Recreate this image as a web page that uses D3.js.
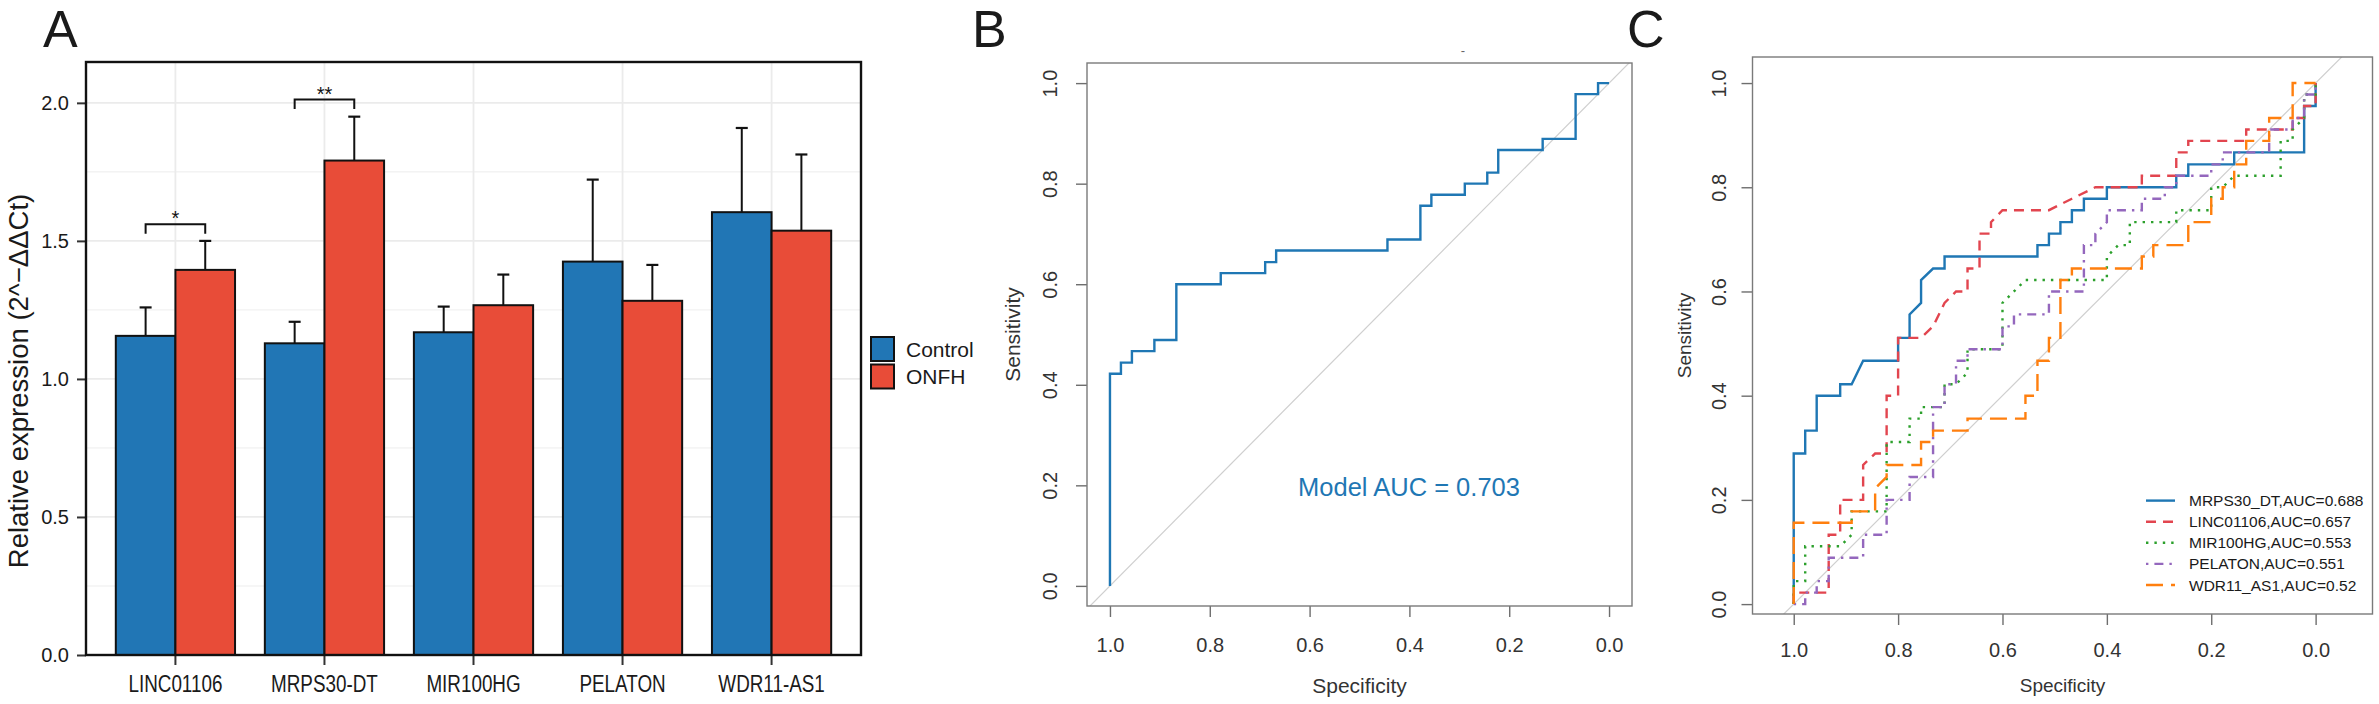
<!DOCTYPE html>
<html lang="en">
<head>
<meta charset="UTF-8">
<title>Relative expression and ROC curves</title>
<style>
  body { margin: 0; background: #fff; }
  svg { display: block; font-family: "Liberation Sans", Arial, Helvetica, sans-serif; }
</style>
</head>
<body>
<div id="chart"></div>
<script src="https://d3js.org/d3.v7.min.js"></script>
<script>
// ---------- panel A : relative expression (mean + upper error) ----------
const genes = ["LINC01106", "MRPS30-DT", "MIR100HG", "PELATON", "WDR11-AS1"];
const groups = ["Control", "ONFH"];
const controlMean = [1.156, 1.129, 1.169, 1.425, 1.604];
const controlUpper = [1.259, 1.207, 1.262, 1.722, 1.909];
const onfhMean = [1.395, 1.791, 1.267, 1.283, 1.537];
const onfhUpper = [1.500, 1.950, 1.378, 1.413, 1.813];
const yTicksA = [0, 0.5, 1, 1.5, 2];
const yMinorA = [0.25, 0.75, 1.25, 1.75];
const sigGenes = ["LINC01106", "MRPS30-DT"];
const sigLabels = ["*", "**"];
const sigHeights = [1.56, 2.012];

// ---------- panel B : combined model ROC ----------
const specB = [1, 1, 0.978, 0.978, 0.956, 0.956, 0.911, 0.911, 0.867, 0.867, 0.778, 0.778, 0.689, 0.689, 0.667, 0.667, 0.444, 0.444, 0.378, 0.378, 0.356, 0.356, 0.289, 0.289, 0.244, 0.244, 0.222, 0.222, 0.133, 0.133, 0.067, 0.067, 0.022, 0.022, 0];
const sensB = [0, 0.422, 0.422, 0.444, 0.444, 0.467, 0.467, 0.489, 0.489, 0.6, 0.6, 0.622, 0.622, 0.644, 0.644, 0.667, 0.667, 0.689, 0.689, 0.756, 0.756, 0.778, 0.778, 0.8, 0.8, 0.822, 0.822, 0.867, 0.867, 0.889, 0.889, 0.978, 0.978, 1, 1];
const aucLabelB = "Model AUC = 0.703";
const rocTicks = [0, 0.2, 0.4, 0.6, 0.8, 1];

// ---------- panel C : single gene ROC curves ----------
const specMRPS30 = [1, 1, 0.978, 0.978, 0.956, 0.956, 0.911, 0.911, 0.889, 0.867, 0.8, 0.8, 0.778, 0.778, 0.756, 0.756, 0.733, 0.711, 0.711, 0.533, 0.533, 0.511, 0.511, 0.489, 0.489, 0.467, 0.467, 0.444, 0.444, 0.4, 0.4, 0.267, 0.267, 0.244, 0.244, 0.156, 0.156, 0.022, 0.022, 0, 0];
const sensMRPS30 = [0, 0.289, 0.289, 0.333, 0.333, 0.4, 0.4, 0.422, 0.422, 0.467, 0.467, 0.511, 0.511, 0.556, 0.578, 0.622, 0.644, 0.644, 0.667, 0.667, 0.689, 0.689, 0.711, 0.711, 0.733, 0.733, 0.756, 0.756, 0.778, 0.778, 0.8, 0.8, 0.822, 0.822, 0.844, 0.844, 0.867, 0.867, 0.956, 0.956, 1];
const specLINC = [1, 1, 0.933, 0.933, 0.911, 0.911, 0.867, 0.867, 0.844, 0.822, 0.822, 0.8, 0.8, 0.756, 0.733, 0.711, 0.689, 0.667, 0.667, 0.644, 0.644, 0.622, 0.622, 0.6, 0.511, 0.467, 0.422, 0.333, 0.333, 0.267, 0.267, 0.244, 0.244, 0.133, 0.133, 0.044, 0.044, 0.022, 0.022, 0, 0];
const sensLINC = [0, 0.022, 0.022, 0.133, 0.133, 0.2, 0.2, 0.267, 0.289, 0.289, 0.4, 0.4, 0.511, 0.511, 0.533, 0.578, 0.6, 0.6, 0.644, 0.644, 0.711, 0.711, 0.733, 0.756, 0.756, 0.778, 0.8, 0.8, 0.822, 0.822, 0.867, 0.867, 0.889, 0.889, 0.911, 0.911, 0.933, 0.933, 0.956, 0.956, 1];
const specMIR = [1, 1, 0.978, 0.978, 0.911, 0.889, 0.889, 0.822, 0.822, 0.778, 0.778, 0.756, 0.756, 0.711, 0.711, 0.689, 0.667, 0.667, 0.6, 0.6, 0.578, 0.556, 0.4, 0.4, 0.378, 0.356, 0.356, 0.267, 0.267, 0.2, 0.2, 0.178, 0.156, 0.067, 0.067, 0.044, 0.044, 0.022, 0.022, 0, 0];
const sensMIR = [0, 0.044, 0.044, 0.111, 0.111, 0.133, 0.178, 0.178, 0.311, 0.311, 0.356, 0.356, 0.378, 0.378, 0.422, 0.422, 0.444, 0.489, 0.489, 0.578, 0.6, 0.622, 0.622, 0.667, 0.689, 0.689, 0.733, 0.733, 0.756, 0.756, 0.8, 0.8, 0.822, 0.822, 0.889, 0.889, 0.911, 0.933, 0.978, 0.978, 1];
const specPEL = [1, 0.978, 0.978, 0.956, 0.956, 0.933, 0.933, 0.867, 0.867, 0.822, 0.822, 0.778, 0.778, 0.733, 0.733, 0.711, 0.711, 0.689, 0.689, 0.667, 0.667, 0.6, 0.6, 0.578, 0.578, 0.511, 0.511, 0.444, 0.444, 0.422, 0.422, 0.4, 0.4, 0.333, 0.333, 0.289, 0.289, 0.267, 0.267, 0.2, 0.2, 0.178, 0.178, 0.089, 0.089, 0.044, 0.044, 0.022, 0.022, 0, 0];
const sensPEL = [0, 0, 0.022, 0.022, 0.044, 0.044, 0.089, 0.089, 0.133, 0.133, 0.2, 0.2, 0.244, 0.244, 0.378, 0.378, 0.422, 0.422, 0.467, 0.467, 0.489, 0.489, 0.533, 0.533, 0.556, 0.556, 0.6, 0.6, 0.689, 0.689, 0.711, 0.733, 0.756, 0.756, 0.778, 0.778, 0.8, 0.8, 0.822, 0.822, 0.844, 0.844, 0.867, 0.867, 0.911, 0.911, 0.933, 0.933, 0.978, 0.978, 1];
const specWDR = [1, 1, 0.889, 0.889, 0.844, 0.844, 0.822, 0.822, 0.756, 0.756, 0.733, 0.733, 0.667, 0.667, 0.556, 0.556, 0.533, 0.533, 0.511, 0.511, 0.489, 0.489, 0.467, 0.467, 0.333, 0.333, 0.311, 0.311, 0.244, 0.244, 0.2, 0.2, 0.178, 0.178, 0.156, 0.156, 0.133, 0.133, 0.089, 0.089, 0.044, 0.044, 0];
const sensWDR = [0, 0.156, 0.156, 0.178, 0.178, 0.222, 0.244, 0.267, 0.267, 0.311, 0.311, 0.333, 0.333, 0.356, 0.356, 0.4, 0.4, 0.467, 0.467, 0.511, 0.511, 0.622, 0.622, 0.644, 0.644, 0.667, 0.667, 0.689, 0.689, 0.733, 0.733, 0.778, 0.778, 0.8, 0.8, 0.844, 0.844, 0.889, 0.889, 0.933, 0.933, 1, 1];
const rocLabelsC = ["MRPS30_DT,AUC=0.688", "LINC01106,AUC=0.657", "MIR100HG,AUC=0.553", "PELATON,AUC=0.551", "WDR11_AS1,AUC=0.52"];

const W = 2379, H = 704;
const font = "'Liberation Sans', Arial, Helvetica, sans-serif";

const svg = d3.select("#chart").append("svg")
  .attr("width", W)
  .attr("height", H);
svg.append("rect").attr("width", W).attr("height", H).attr("fill", "#fff");

// panel letters
[["A", 43], ["B", 972], ["C", 1627]].forEach(([t, x]) => {
  svg.append("text").attr("x", x).attr("y", 47)
    .attr("font-size", 52).attr("fill", "#1a1a1a").text(t);
});

// =============================== A ===============================
const aBox = { left: 86, right: 861, top: 62, bottom: 655 };
const xA = d3.scaleBand().domain(genes).range([aBox.left, aBox.right]).paddingInner(0).paddingOuter(0.1);
const subA = d3.scaleBand().domain(groups).range([0, xA.bandwidth()]).paddingOuter(0.25);
const yA = d3.scaleLinear().domain([0, 2.148]).range([aBox.bottom, aBox.top]);
const colorA = d3.scaleOrdinal().domain(groups).range(["#2176b5", "#e84c38"]);

const gA = svg.append("g");
// grid
gA.selectAll("line.minor").data(yMinorA).enter().append("line")
  .attr("x1", aBox.left).attr("x2", aBox.right)
  .attr("y1", d => yA(d)).attr("y2", d => yA(d))
  .attr("stroke", "#ebebeb").attr("stroke-width", 0.9);
gA.selectAll("line.major").data(yTicksA).enter().append("line")
  .attr("x1", aBox.left).attr("x2", aBox.right)
  .attr("y1", d => yA(d)).attr("y2", d => yA(d))
  .attr("stroke", "#ebebeb").attr("stroke-width", 1.8);
gA.selectAll("line.vgrid").data(genes).enter().append("line")
  .attr("x1", d => xA(d) + xA.bandwidth() / 2).attr("x2", d => xA(d) + xA.bandwidth() / 2)
  .attr("y1", aBox.top).attr("y2", aBox.bottom)
  .attr("stroke", "#ebebeb").attr("stroke-width", 1.8);

const barsA = genes.flatMap((g, i) => [
  { gene: g, group: "Control", mean: controlMean[i], upper: controlUpper[i] },
  { gene: g, group: "ONFH", mean: onfhMean[i], upper: onfhUpper[i] }
]);
const barX = d => xA(d.gene) + subA(d.group);
const barMid = d => barX(d) + subA.bandwidth() / 2;

// error bars (upper only)
gA.selectAll("line.err").data(barsA).enter().append("line")
  .attr("x1", barMid).attr("x2", barMid)
  .attr("y1", d => yA(d.mean)).attr("y2", d => yA(d.upper))
  .attr("stroke", "#111").attr("stroke-width", 2);
gA.selectAll("line.cap").data(barsA).enter().append("line")
  .attr("x1", d => barMid(d) - 6).attr("x2", d => barMid(d) + 6)
  .attr("y1", d => yA(d.upper)).attr("y2", d => yA(d.upper))
  .attr("stroke", "#111").attr("stroke-width", 2.2);

gA.selectAll("rect.bar").data(barsA).enter().append("rect")
  .attr("x", barX).attr("width", subA.bandwidth())
  .attr("y", d => yA(d.mean)).attr("height", d => yA(0) - yA(d.mean))
  .attr("fill", d => colorA(d.group))
  .attr("stroke", "#111").attr("stroke-width", 2);

// significance brackets
sigGenes.forEach((g, i) => {
  const x1 = xA(g) + subA("Control") + subA.bandwidth() / 2;
  const x2 = xA(g) + subA("ONFH") + subA.bandwidth() / 2;
  const y = yA(sigHeights[i]);
  const drop = yA(sigHeights[i] - 0.034);
  gA.append("path")
    .attr("d", `M${x1},${drop}V${y}H${x2}V${drop}`)
    .attr("fill", "none").attr("stroke", "#111").attr("stroke-width", 2);
  gA.append("text").attr("x", (x1 + x2) / 2).attr("y", y + 1)
    .attr("text-anchor", "middle").attr("font-size", 20).attr("fill", "#111")
    .text(sigLabels[i]);
});

// axes
const yAxisA = gA.append("g").attr("transform", `translate(${aBox.left},0)`)
  .call(d3.axisLeft(yA).tickValues(yTicksA).tickFormat(d3.format(".1f")).tickSize(9).tickPadding(8));
const xAxisA = gA.append("g").attr("transform", `translate(0,${aBox.bottom})`)
  .call(d3.axisBottom(xA).tickSize(10).tickPadding(11));
[yAxisA, xAxisA].forEach(ax => {
  ax.select(".domain").remove();
  ax.selectAll(".tick line").attr("stroke", "#333").attr("stroke-width", 2);
  ax.selectAll(".tick text").attr("fill", "#1a1a1a").attr("font-family", font);
});
yAxisA.selectAll(".tick text").attr("font-size", 20);
// gene names are set in a narrow face in the original
xAxisA.selectAll(".tick text").attr("font-size", 23).attr("transform", "scale(0.82,1)");

gA.append("rect")
  .attr("x", aBox.left).attr("y", aBox.top)
  .attr("width", aBox.right - aBox.left).attr("height", aBox.bottom - aBox.top)
  .attr("fill", "none").attr("stroke", "#111").attr("stroke-width", 2.4);

gA.append("text")
  .attr("transform", "translate(18,381) rotate(-90)")
  .attr("dy", "0.35em").attr("text-anchor", "middle")
  .attr("font-size", 27.5).attr("fill", "#1a1a1a")
  .text("Relative expression (2^\u2212\u0394\u0394Ct)");

// legend
const legA = gA.append("g").attr("transform", "translate(871,337)");
groups.forEach((grp, i) => {
  legA.append("rect").attr("x", 0).attr("y", i * 27.5)
    .attr("width", 23).attr("height", 24)
    .attr("fill", colorA(grp)).attr("stroke", "#111").attr("stroke-width", 2);
  legA.append("text").attr("x", 35).attr("y", i * 27.5 + 12)
    .attr("dy", "0.36em").attr("font-size", 21).attr("fill", "#1a1a1a").text(grp);
});

// ========================= ROC helper =========================
function rocFrame(box, xs, ys, opts) {
  const g = svg.append("g");
  const clipId = "clip" + opts.id;
  svg.append("clipPath").attr("id", clipId).append("rect")
    .attr("x", box.left).attr("y", box.top)
    .attr("width", box.right - box.left).attr("height", box.bottom - box.top);
  // chance line
  g.append("line")
    .attr("x1", xs(1.2)).attr("y1", ys(-0.2)).attr("x2", xs(-0.2)).attr("y2", ys(1.2))
    .attr("stroke", "#cfcfcf").attr("stroke-width", 1.2)
    .attr("clip-path", `url(#${clipId})`);

  const yAx = g.append("g").attr("transform", `translate(${box.left},0)`)
    .call(d3.axisLeft(ys).tickValues(rocTicks).tickFormat(d3.format(".1f")).tickSize(11));
  yAx.selectAll(".tick text")
    .attr("x", 0).attr("y", 0).attr("dy", "0.35em")
    .attr("transform", `translate(${-opts.yLabOff},0) rotate(-90)`)
    .attr("text-anchor", "middle");
  const xAx = g.append("g").attr("transform", `translate(0,${box.bottom})`)
    .call(d3.axisBottom(xs).tickValues(rocTicks).tickFormat(d3.format(".1f")).tickSize(11).tickPadding(opts.xPad));
  [yAx, xAx].forEach(ax => {
    ax.select(".domain").remove();
    ax.selectAll(".tick line").attr("stroke", "#6e6e6e").attr("stroke-width", 1.4);
    ax.selectAll(".tick text").attr("fill", "#333").attr("font-size", 20).attr("font-family", font);
  });
  g.append("rect")
    .attr("x", box.left).attr("y", box.top)
    .attr("width", box.right - box.left).attr("height", box.bottom - box.top)
    .attr("fill", "none").attr("stroke", "#7a7a7a").attr("stroke-width", 1.4);

  g.append("text")
    .attr("x", (box.left + box.right) / 2).attr("y", 685).attr("dy", "0.36em")
    .attr("text-anchor", "middle").attr("font-size", opts.titleSize).attr("fill", "#333")
    .text("Specificity");
  g.append("text")
    .attr("transform", `translate(${opts.sensX},${(box.top + box.bottom) / 2}) rotate(-90)`)
    .attr("dy", "0.36em").attr("text-anchor", "middle")
    .attr("font-size", opts.titleSize).attr("fill", "#333")
    .text("Sensitivity");
  return { g, clipId };
}

// =============================== B ===============================
const bBox = { left: 1087, right: 1632, top: 63, bottom: 606 };
const xB = d3.scaleLinear().domain([1.046, -0.046]).range([bBox.left, bBox.right]);
const yB = d3.scaleLinear().domain([-0.04, 1.04]).range([bBox.bottom, bBox.top]);
const fB = rocFrame(bBox, xB, yB, { id: "B", yLabOff: 37, xPad: 21, titleSize: 21, sensX: 1012 });

const lineB = d3.line().x(d => xB(d[0])).y(d => yB(d[1]));
fB.g.append("path")
  .datum(specB.map((s, i) => [s, sensB[i]]))
  .attr("d", lineB)
  .attr("fill", "none").attr("stroke", "#1f77b4").attr("stroke-width", 2.4)
  .attr("stroke-linejoin", "miter");
fB.g.append("text").attr("x", 1409).attr("y", 487).attr("dy", "0.36em")
  .attr("text-anchor", "middle").attr("font-size", 25.5).attr("fill", "#1f77b4")
  .text(aucLabelB);
fB.g.append("text").attr("x", 1463).attr("y", 55)
  .attr("text-anchor", "middle").attr("font-size", 13).attr("fill", "#666").text("-");

// =============================== C ===============================
const cBox = { left: 1752.5, right: 2372.5, top: 57, bottom: 614 };
const xC = d3.scaleLinear().domain([1.079, -0.109]).range([cBox.left, cBox.right]);
const yC = d3.scaleLinear().domain([-0.019, 1.05]).range([cBox.bottom, cBox.top]);
const fC = rocFrame(cBox, xC, yC, { id: "C", yLabOff: 33.5, xPad: 18, titleSize: 19, sensX: 1684.5 });

const seriesC = [
  { spec: specMRPS30, sens: sensMRPS30, color: "#1f77b4", dash: null },
  { spec: specLINC, sens: sensLINC, color: "#e2454f", dash: "10,7" },
  { spec: specMIR, sens: sensMIR, color: "#2ca02c", dash: "2.4,6" },
  { spec: specPEL, sens: sensPEL, color: "#9467bd", dash: "2.4,6,9,6" },
  { spec: specWDR, sens: sensWDR, color: "#ff7f0e", dash: "17,8" }
];
const lineC = d3.line().x(d => xC(d[0])).y(d => yC(d[1]));
seriesC.forEach(s => {
  fC.g.append("path")
    .datum(s.spec.map((v, i) => [v, s.sens[i]]))
    .attr("d", lineC)
    .attr("fill", "none").attr("stroke", s.color).attr("stroke-width", 2.4)
    .attr("stroke-dasharray", s.dash);
});

const legC = fC.g.append("g").attr("transform", "translate(2146,500.6)");
rocLabelsC.forEach((lab, i) => {
  const s = seriesC[i];
  legC.append("line").attr("x1", 0).attr("x2", 29).attr("y1", i * 21.1).attr("y2", i * 21.1)
    .attr("stroke", s.color).attr("stroke-width", 2.4).attr("stroke-dasharray", s.dash);
  legC.append("text").attr("x", 43).attr("y", i * 21.1).attr("dy", "0.36em")
    .attr("font-size", 15.5).attr("fill", "#1a1a1a").text(lab);
});
</script>
</body>
</html>
